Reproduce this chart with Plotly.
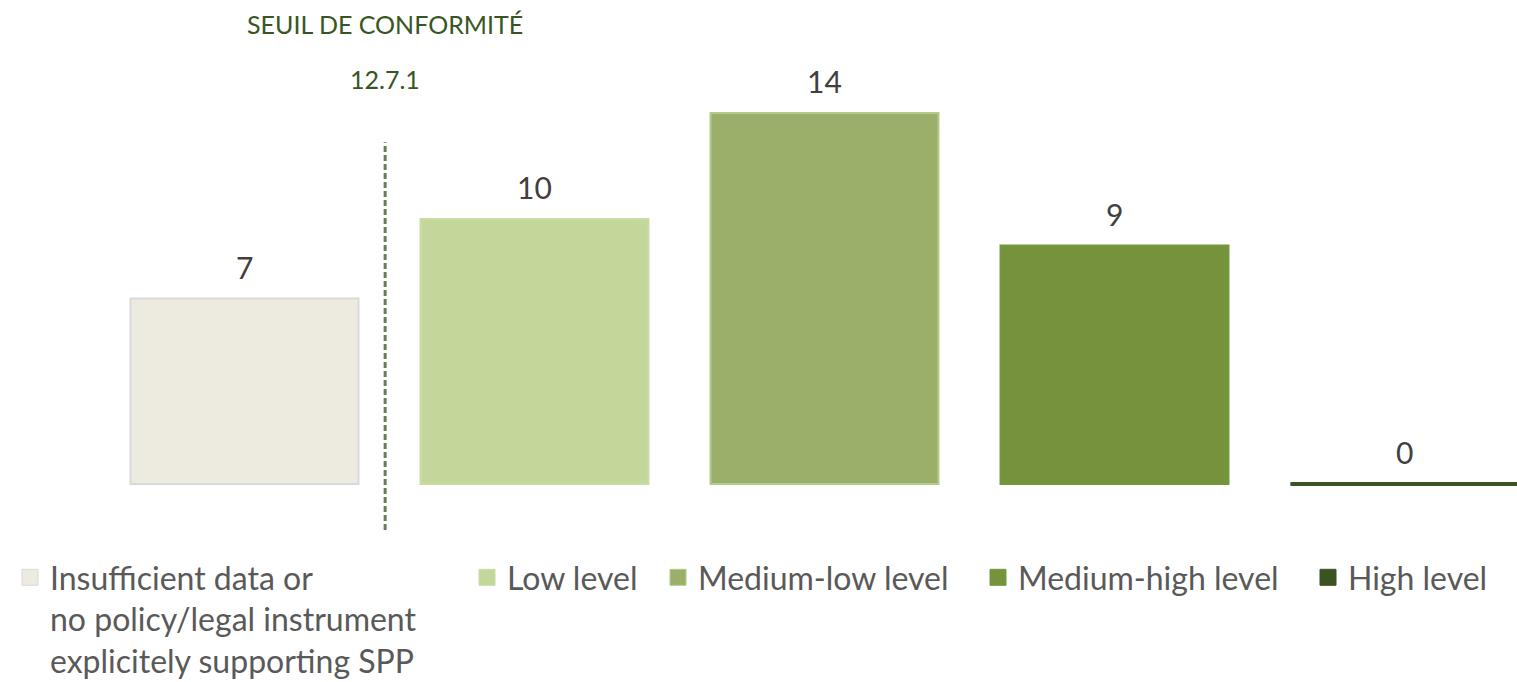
import plotly.graph_objects as go

# ---- data ----
categories = [
    "Insufficient data or<br>no policy/legal instrument<br>explicitely supporting SPP",
    "Low level",
    "Medium-low level",
    "Medium-high level",
    "High level",
]
values = [7, 10, 14, 9, 0]
colors = ["#EDEBE0", "#C4D79B", "#9BAF6B", "#76923C", "#3B5323"]
line_colors = ["#D9D9D9", "#C9DCA4", "#B0CC88", "#6E9A3C", "#3B5323"]

threshold_title = "SEUIL DE CONFORMITÉ"
threshold_code = "12.7.1"
THRESHOLD_X = 0.485          # between 1st and 2nd category
THRESHOLD_Y = [-1.74, 12.9]  # vertical extent of the dashed line

# ---- layout constants ----
W, H = 1517, 682
BARGAP = 0.214
PX_PER_UNIT_Y = 26.5
ZERO_PX = 484
PX_PER_CAT = 290
CAT0_PX = 244.5

y_top = ZERO_PX / PX_PER_UNIT_Y
y_bot = -(H - ZERO_PX) / PX_PER_UNIT_Y
x_left = -CAT0_PX / PX_PER_CAT
x_right = (W - CAT0_PX) / PX_PER_CAT

FONT = "Lato"
legend_left_px = [10, 467, 658, 978, 1308]
legend_top_px = 550

fig = go.Figure()
xs = list(range(len(categories)))
half = (1 - BARGAP) / 2
for i, (cat, v, c, lc) in enumerate(zip(categories, values, colors, line_colors)):
    leg = "legend" if i == 0 else f"legend{i+1}"
    fig.add_trace(go.Bar(
        x=[xs[i]], y=[v], name=cat,
        marker=dict(color=c, line=dict(color=lc, width=2)),
        showlegend=False, hoverinfo="skip",
    ))
    # legend swatch (larger square than default bar swatch)
    fig.add_trace(go.Scatter(
        x=[None], y=[None], mode="markers", name=cat, legend=leg,
        marker=dict(symbol="square", size=16, color=c, line=dict(color=lc, width=1)),
        showlegend=True, hoverinfo="skip",
    ))
    if v == 0:
        # zero-height bar drawn as its outline
        fig.add_trace(go.Scatter(
            x=[xs[i] - half, xs[i] + half], y=[v, v], mode="lines",
            line=dict(color=c, width=4), showlegend=False, hoverinfo="skip",
        ))

# value labels
for i, v in enumerate(values):
    fig.add_annotation(x=xs[i], y=v, text=str(v), showarrow=False,
                       yanchor="bottom", yshift=12,
                       font=dict(family=FONT, size=30, color="#404040"))

# threshold line and text
fig.add_shape(type="line", x0=THRESHOLD_X, x1=THRESHOLD_X,
              y0=THRESHOLD_Y[0], y1=THRESHOLD_Y[1], xref="x", yref="y",
              line=dict(color="#5F8250", width=3, dash="6px,3px"))
fig.add_annotation(x=THRESHOLD_X, y=(ZERO_PX - 24) / PX_PER_UNIT_Y, text=threshold_title,
                   showarrow=False, yanchor="middle",
                   font=dict(family=FONT, size=25, color="#375623"))
fig.add_annotation(x=THRESHOLD_X, y=(ZERO_PX - 79) / PX_PER_UNIT_Y, text=threshold_code,
                   showarrow=False, yanchor="middle",
                   font=dict(family=FONT, size=25, color="#375623"))

legend_common = dict(
    yanchor="top", xanchor="left", bgcolor="rgba(0,0,0,0)",
    font=dict(family=FONT, size=32, color="#595959"), valign="top",
    orientation="v", itemsizing="trace",
)
layout_legends = {}
for i, lx in enumerate(legend_left_px):
    key = "legend" if i == 0 else f"legend{i+1}"
    layout_legends[key] = dict(x=lx / W, y=1 - legend_top_px / H, **legend_common)

fig.update_layout(
    width=W, height=H,
    margin=dict(l=0, r=0, t=0, b=0, autoexpand=False),
    paper_bgcolor="white", plot_bgcolor="white",
    barmode="overlay", bargap=BARGAP,
    xaxis=dict(range=[x_left, x_right], visible=False, fixedrange=True),
    yaxis=dict(range=[y_bot, y_top], visible=False, fixedrange=True),
    font=dict(family=FONT),
    **layout_legends,
)

fig.write_html("out.html", config={"displayModeBar": False},
               post_script="document.body.style.margin='0';")
